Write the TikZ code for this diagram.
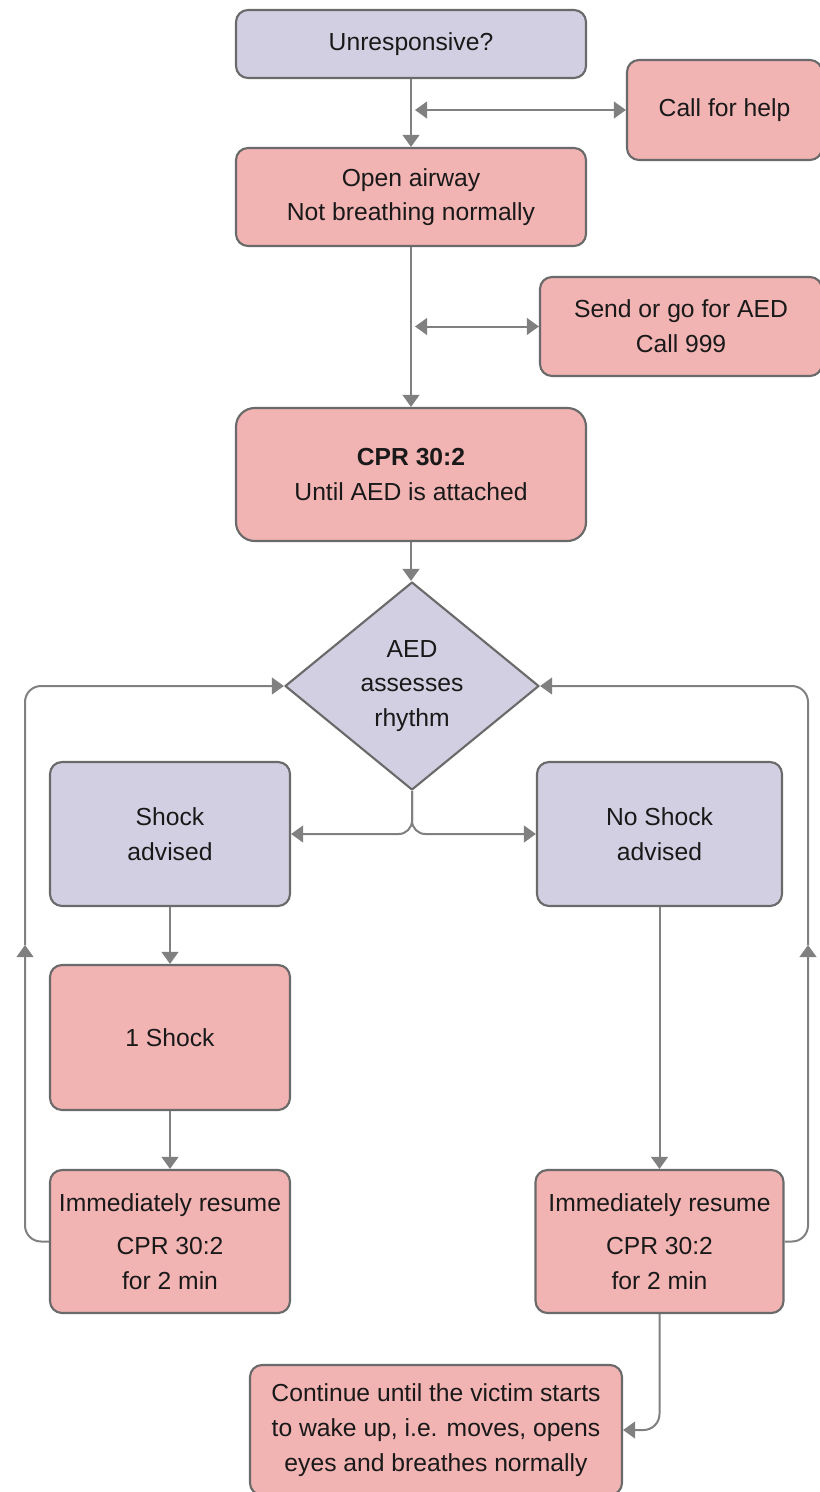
\documentclass[tikz,border=0pt]{standalone}
\usepackage{fontspec}
\setmainfont{Liberation Sans}
\usetikzlibrary{arrows.meta}
\usetikzlibrary{positioning}
\usetikzlibrary{shapes.geometric}
\definecolor{boxpink}{HTML}{F2B3B3}
\definecolor{boxlilac}{HTML}{D3CFE2}
\definecolor{boxedge}{HTML}{6A6A6A}
\definecolor{flowgray}{HTML}{808080}
\tikzset{
  box/.style={draw=boxedge, line width=1.6pt, rounded corners=9pt, align=center, text=black!90, font=\fontsize{18.5}{26}\selectfont, inner sep=2pt},
  pinkbox/.style={box, fill=boxpink},
  lilacbox/.style={box, fill=boxlilac},
  flow/.style={draw=flowgray, line width=1.5pt, -{Triangle[length=9pt,width=12.5pt]}},
  twoway/.style={flow, {Triangle[length=9pt,width=12.5pt]}-{Triangle[length=9pt,width=12.5pt]}}
}

\begin{document}
\begin{tikzpicture}[line join=round, x=0.75pt, y=-0.75pt]
\useasboundingbox (0,0) rectangle (819,1492);
\node [lilacbox, minimum width=262.5pt, minimum height=51pt] (unresp) at (411,44) {Unresponsive?};
\node [pinkbox, minimum width=146.25pt, minimum height=75pt] (help) at (724.5,110) {Call for help};
\node [pinkbox, minimum width=262.5pt, minimum height=73.5pt] (airway) at (411,197) {Open airway\\Not breathing normally};
\node [pinkbox, minimum width=211.5pt, minimum height=74.25pt] (aed) at (681,326.5) {Send or go for AED\\Call 999};
\node [pinkbox, rounded corners=14pt, minimum width=262.5pt, minimum height=99.75pt] (cpr) at (411,474.5) {\textbf{CPR 30:2}\\Until AED is attached};
\node [lilacbox, diamond, sharp corners, inner sep=0pt, minimum width=190.5pt, minimum height=156pt] (rhythm) at (412,686) {AED\\assesses\\rhythm};
\node [lilacbox, minimum width=180pt, minimum height=108pt] (shock) at (170,834) {Shock\\advised};
\node [lilacbox, minimum width=183.75pt, minimum height=108pt] (noshock) at (659.5,834) {No Shock\\advised};
\node [pinkbox, minimum width=180pt, minimum height=108.75pt] (one) at (170,1037.5) {1 Shock};
\node [pinkbox, minimum width=180pt, minimum height=107.25pt] (resL) at (170,1241.5) {Immediately resume\\[6pt]CPR 30:2\\for 2 min};
\node [pinkbox, minimum width=186pt, minimum height=107.25pt] (resR) at (659.5,1241.5) {Immediately resume\\[6pt]CPR 30:2\\for 2 min};
\node [pinkbox, minimum width=279pt, minimum height=97.5pt] (cont) at (436,1430) {Continue until the victim starts\\to wake up, i.e. moves, opens\\eyes and breathes normally};
\coordinate (helpjoin) at (415,110);
\coordinate (aedjoin) at (415,326.5);
\coordinate (leftup) at (25,945);
\coordinate (rightup) at (808,945);
\draw [flow] (unresp) -- (airway);
\draw [twoway] (helpjoin) -- (help.west);
\draw [flow] (airway) -- (cpr);
\draw [twoway] (aedjoin) -- (aed.west);
\draw [flow] (cpr.south) -- (cpr.south |- rhythm.north);
\draw [flow, rounded corners=10pt] (rhythm.south) |- (shock.east);
\draw [flow, rounded corners=10pt] (rhythm.south) |- (noshock.west);
\draw [flow] (shock) -- (one);
\draw [flow] (one) -- (resL);
\draw [flow] (noshock) -- (resR);
\draw [flow, rounded corners=12pt] (resL.west) -| (leftup);
\draw [flow, rounded corners=12pt] (leftup) |- (rhythm.west);
\draw [flow, rounded corners=12pt] (resR.east) -| (rightup);
\draw [flow, rounded corners=12pt] (rightup) |- (rhythm.east);
\draw [flow, rounded corners=12pt] (resR.south) |- (cont.east);
\end{tikzpicture}
\end{document}
